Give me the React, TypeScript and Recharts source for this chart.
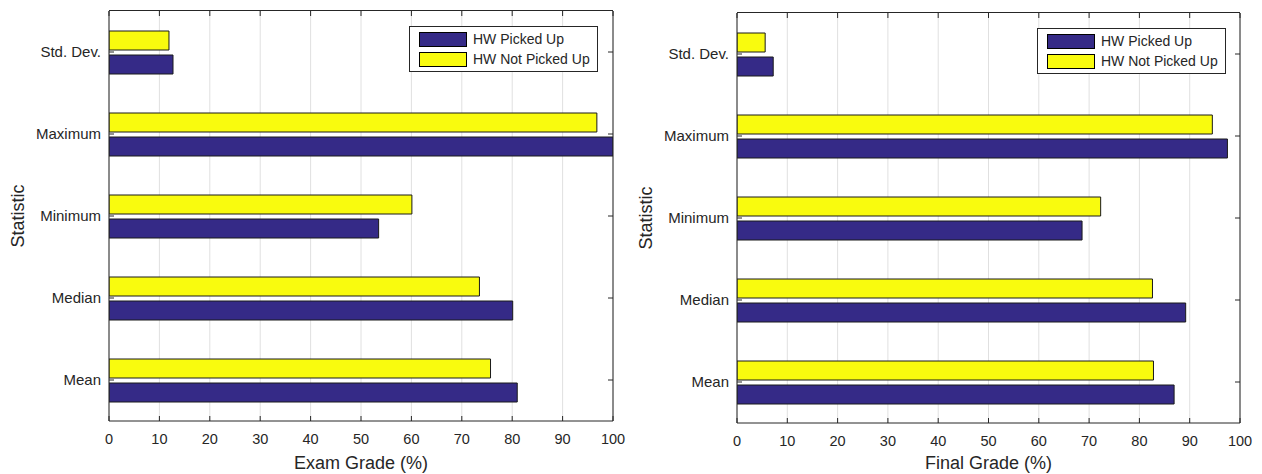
import React from "react";
import { BarChart, Bar, XAxis, YAxis, CartesianGrid } from "recharts";

const statistics = ["Std. Dev.", "Maximum", "Minimum", "Median", "Mean"];
const examPickedUp = [12.7, 100, 53.5, 80.1, 81.0];
const examNotPickedUp = [11.9, 96.8, 60.1, 73.5, 75.7];
const finalPickedUp = [7.2, 97.5, 68.6, 89.2, 86.9];
const finalNotPickedUp = [5.6, 94.5, 72.3, 82.6, 82.8];
const gradeTicks = [0, 10, 20, 30, 40, 50, 60, 70, 80, 90, 100];
const seriesNames = ["HW Picked Up", "HW Not Picked Up"];

const INK = "#262626";
const FONT = '"Liberation Sans", Arial, Helvetica, sans-serif';
const BLUE = "#352a87";
const YELLOW = "#f9fb0e";
const EDGE = "#1a1a1a";
const PLOT_HEIGHT = 410;

// bottom tick: label plus inward marks on the bottom and top edges of the box
function BottomTick({ x, y, payload }: any) {
  const top = y - PLOT_HEIGHT;
  return (
    <g>
      <line x1={x} y1={y} x2={x} y2={y - 5} stroke={INK} />
      <line x1={x} y1={top} x2={x} y2={top + 5} stroke={INK} />
      <text x={x} y={y + 23} textAnchor="middle" fontSize={14.5} fill={INK} fontFamily={FONT}>
        {payload.value}
      </text>
    </g>
  );
}

function LeftTick({ x, y, payload }: any) {
  return (
    <g>
      <line x1={x} y1={y} x2={x + 5} y2={y} stroke={INK} />
      <text x={x - 8} y={y} dy="0.35em" textAnchor="end" fontSize={15} fill={INK} fontFamily={FONT}>
        {payload.value}
      </text>
    </g>
  );
}

function RightTick({ x, y }: any) {
  return <line x1={x} y1={y} x2={x - 5} y2={y} stroke={INK} />;
}

function GradeLegend({ left, top }: { left: number; top: number }) {
  const colors = [BLUE, YELLOW];
  return (
    <div
      style={{
        position: "absolute",
        left,
        top,
        width: 189,
        height: 46,
        boxSizing: "border-box",
        border: `1px solid ${INK}`,
        background: "#fff",
        fontFamily: FONT,
        fontSize: 14,
        color: INK,
      }}
    >
      {seriesNames.map((name, i) => (
        <div key={name} style={{ position: "absolute", left: 9, top: 5 + i * 20, height: 15, display: "flex", alignItems: "center" }}>
          <div style={{ width: 48, height: 15, boxSizing: "border-box", border: "1px solid #000", background: colors[i] }} />
          <span style={{ marginLeft: 6, whiteSpace: "nowrap", lineHeight: "15px" }}>{name}</span>
        </div>
      ))}
    </div>
  );
}

interface PanelProps {
  picked: number[];
  notPicked: number[];
  xTitle: string;
  width: number;
  top: number;
  right: number;
  axisWidth: number;
  titleX: number;
  legendLeft: number;
  legendTop: number;
}

function GradePanel(p: PanelProps) {
  const data = statistics.map((stat, i) => ({
    stat,
    picked: p.picked[i],
    notPicked: p.notPicked[i],
  }));
  const xAxisHeight = 474 - p.top - PLOT_HEIGHT;
  const plotWidth = p.width - p.axisWidth - p.right;

  return (
    <div style={{ position: "relative", width: p.width, height: 474 }}>
      <BarChart
        width={p.width}
        height={474}
        data={data}
        layout="vertical"
        barGap={5}
        margin={{ top: p.top, right: p.right - 1, bottom: 0, left: 0 }}
      >
        <CartesianGrid horizontal={false} stroke="#e0e0e0" />
        <XAxis
          type="number"
          domain={[0, 100]}
          ticks={gradeTicks}
          allowDataOverflow
          height={xAxisHeight}
          tickSize={0}
          tickMargin={0}
          tickLine={false}
          axisLine={{ stroke: INK }}
          tick={(t: any) => <BottomTick {...t} />}
          label={(lp: any) => {
            const vb = lp.viewBox;
            return (
              <text x={vb.x + vb.width / 2} y={vb.y + vb.height - 5} textAnchor="middle" fontSize={18} fill={INK} fontFamily={FONT}>
                {p.xTitle}
              </text>
            );
          }}
        />
        <YAxis
          type="category"
          dataKey="stat"
          width={p.axisWidth}
          tickSize={0}
          tickMargin={0}
          tickLine={false}
          axisLine={{ stroke: INK }}
          tick={(t: any) => <LeftTick {...t} />}
          label={(lp: any) => {
            const vb = lp.viewBox;
            const cy = vb.y + vb.height / 2;
            return (
              <text
                x={p.titleX}
                y={cy}
                dy="0.35em"
                textAnchor="middle"
                fontSize={18}
                fill={INK}
                fontFamily={FONT}
                transform={`rotate(-90 ${p.titleX} ${cy})`}
              >
                Statistic
              </text>
            );
          }}
        />
        <YAxis
          yAxisId="right"
          orientation="right"
          type="category"
          dataKey="stat"
          width={1}
          tickSize={0}
          tickMargin={0}
          tickLine={false}
          axisLine={{ stroke: INK }}
          tick={(t: any) => <RightTick {...t} />}
        />
        <Bar dataKey="notPicked" name={seriesNames[1]} fill={YELLOW} stroke={EDGE} barSize={19} isAnimationActive={false} />
        <Bar dataKey="picked" name={seriesNames[0]} fill={BLUE} stroke={EDGE} barSize={19} isAnimationActive={false} />
      </BarChart>
      {/* top edge of the axes box */}
      <div
        style={{
          position: "absolute",
          left: p.axisWidth,
          top: p.top - 1,
          width: plotWidth,
          height: 1,
          background: INK,
          pointerEvents: "none",
        }}
      />
      <GradeLegend left={p.legendLeft} top={p.legendTop} />
    </div>
  );
}

export default function App() {
  return (
    <div style={{ position: "absolute", left: 0, top: 0, width: 1262, height: 474, background: "#fff", display: "flex" }}>
      <GradePanel
        picked={examPickedUp}
        notPicked={examNotPickedUp}
        xTitle="Exam Grade (%)"
        width={630}
        top={11}
        right={17}
        axisWidth={109}
        titleX={18}
        legendLeft={409}
        legendTop={26}
      />
      <GradePanel
        picked={finalPickedUp}
        notPicked={finalNotPickedUp}
        xTitle="Final Grade (%)"
        width={632}
        top={13}
        right={22}
        axisWidth={107}
        titleX={16}
        legendLeft={407}
        legendTop={28}
      />
    </div>
  );
}
